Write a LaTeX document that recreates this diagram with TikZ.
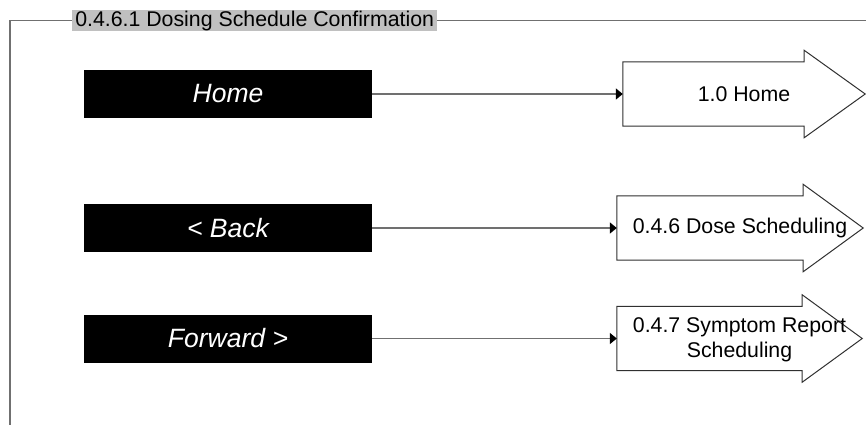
\documentclass[tikz,border=0pt]{standalone}
\usepackage{fontspec}
\setmainfont{Liberation Sans}
\usetikzlibrary{arrows.meta}
\definecolor{framegray}{HTML}{707070}
\definecolor{titlegray}{HTML}{C0C0C0}
\definecolor{outline}{HTML}{303030}
\begin{document}
\begin{tikzpicture}[x=1pt,y=-1pt,
  frameline/.style={draw=framegray,line width=1.5pt},
  titlebox/.style={fill=titlegray,inner sep=0pt,minimum width=365pt,minimum height=21pt,anchor=west,font=\fontsize{21.3}{25}\selectfont},
  button/.style={fill=black,text=white,inner sep=0pt,minimum width=288pt,minimum height=48pt,font=\fontsize{26.5}{30}\itshape},
  target/.style={inner sep=0pt,minimum height=64pt,align=center,font=\fontsize{21.3}{25.5}\selectfont},
  arrowshape/.style={draw=outline,line width=1pt,fill=white},
  link/.style={draw=framegray,line width=1.5pt,-{Triangle[length=7pt,width=11pt,color=black]}}
]
\useasboundingbox (0,0) rectangle (866,424);
% title and frame
\node[titlebox] (title) at (72,20.5) {0.4.6.1 Dosing Schedule Confirmation};
\coordinate (fl) at (10,20.5);
\coordinate (fb) at (10,430);
\coordinate (fr) at (870,20.5);
\draw[frameline] (title.west) -- (fl) -- (fb);
\draw[frameline] (title.east) -- (fr);
% buttons
\node[button] (b1) at (228,94) {Home};
\node[button] (b2) at (228,228) {< Back};
\node[button] (b3) at (228,338.5) {Forward >};
% target arrows
\node[target,minimum width=242pt] (a1) at (744,94) {};
\node[target,minimum width=246pt] (a2) at (740,228) {};
\node[target,minimum width=245pt] (a3) at (739.5,338.5) {};
\foreach \a/\h in {a1/61,a2/60,a3/60}{
  \draw[arrowshape] (\a.north west) -- ([xshift=-\h pt]\a.north east)
    -- ([xshift=-\h pt,yshift=11.5pt]\a.north east) -- (\a.east)
    -- ([xshift=-\h pt,yshift=-11.5pt]\a.south east)
    -- ([xshift=-\h pt]\a.south east) -- (\a.south west) -- cycle;
}
\node[target] at (a1) {1.0 Home};
\node[target] at (a2) {0.4.6 Dose Scheduling};
\node[target] at ([yshift=-1.5pt]a3) {0.4.7 Symptom Report\\Scheduling};
% connectors
\draw[link] (b1.east) -- (a1.west);
\draw[link] (b2.east) -- (a2.west);
\draw[link] (b3.east) -- (a3.west);
\end{tikzpicture}
\end{document}
